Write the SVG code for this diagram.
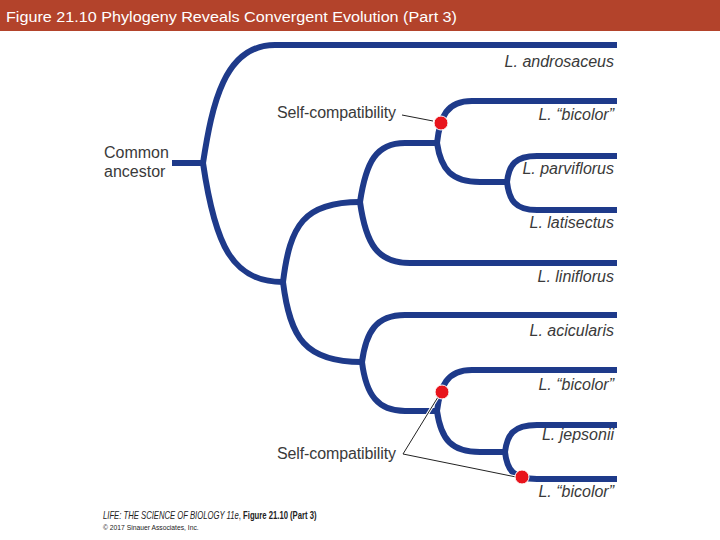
<svg xmlns="http://www.w3.org/2000/svg" width="720" height="540" viewBox="0 0 720 540">
<style>
.br{fill:none;stroke:#1e3a8a;stroke-width:6;stroke-linecap:butt;stroke-linejoin:round}
.tx{font-family:"Liberation Sans",Arial,sans-serif;font-size:16px;fill:#3a3a3a}
.sp{font-style:italic;text-anchor:end}
.call{stroke:#222;stroke-width:1;fill:none}
.halo{stroke:#fff;stroke-width:3;fill:none}
.dot{fill:#e8141c;stroke:#fff;stroke-width:1}
.cr{font-family:"Liberation Sans",Arial,sans-serif;fill:#222}
</style>
<rect width="720" height="540" fill="#fff"/>
<g id="title">
<rect x="0" y="0" width="720" height="31" fill="#b3432b"/>
<text x="6" y="22" font-family="Liberation Sans,Arial,sans-serif" font-size="15.5" fill="#fff" textLength="451" lengthAdjust="spacingAndGlyphs">Figure 21.10  Phylogeny Reveals Convergent Evolution (Part 3)</text>
</g>
<g id="connectors">
<path class="br" d="M172,163 L203,163"/>
<path class="br" d="M203,163 C212,105 224,45 275,45 L617,45"/>
<path class="br" d="M203,163 C215,245 232,282 283,282"/>
<path class="br" d="M283,282 C290,225 304,202 360,202"/>
<path class="br" d="M283,282 C290,338 305,362 362,362"/>
<path class="br" d="M360,202 C366,162 376,143 405,143 L437,143"/>
<path class="br" d="M360,202 C366,245 378,263 410,263 L617,263"/>
<path class="br" d="M437,143 C440,116 447,101 472,101 L617,101"/>
<path class="br" d="M437,143 C441,170 452,182 480,182 L507,182"/>
<path class="br" d="M507,182 C509,165 515,156 537,156 L617,156"/>
<path class="br" d="M507,182 C509,200 515,210 537,210 L617,210"/>
<path class="br" d="M362,362 C366,332 376,315 405,315 L617,315"/>
<path class="br" d="M362,362 C366,395 378,411 405,411 L437,411"/>
<path class="br" d="M437,411 C440,386 447,370 472,370 L617,370"/>
<path class="br" d="M437,411 C441,440 452,452 480,452 L505,452"/>
<path class="br" d="M505,452 C507,435 513,425 537,425 L617,425"/>
<path class="br" d="M505,452 C507,470 513,479 537,479 L617,479"/>
</g>
<g id="callouts">
<path class="halo" d="M402,115 L433,121"/>
<path class="call" d="M402,115 L433,121"/>
<path class="halo" d="M403,454 L438,397 M403,454 L516,477"/>
<path class="call" d="M403,454 L438,397 M403,454 L516,477"/>
</g>
<g id="dots">
<circle class="dot" cx="441" cy="123" r="7"/>
<circle class="dot" cx="442" cy="392" r="7"/>
<circle class="dot" cx="522" cy="477" r="7"/>
</g>
<g id="ancestor"><text class="tx" x="104" y="158">Common</text><text class="tx" x="104" y="177">ancestor</text></g>
<g id="sc1"><text class="tx" x="277" y="118" textLength="119">Self-compatibility</text></g>
<g id="sc2"><text class="tx" x="277" y="459" textLength="119">Self-compatibility</text></g>
<g id="t1"><text class="tx sp" x="614" y="67">L. androsaceus</text></g>
<g id="t2"><text class="tx sp" x="614" y="120">L. “bicolor”</text></g>
<g id="t3"><text class="tx sp" x="614" y="174">L. parviflorus</text></g>
<g id="t4"><text class="tx sp" x="614" y="228">L. latisectus</text></g>
<g id="t5"><text class="tx sp" x="614" y="282">L. liniflorus</text></g>
<g id="t6"><text class="tx sp" x="614" y="336">L. acicularis</text></g>
<g id="t7"><text class="tx sp" x="614" y="390">L. “bicolor”</text></g>
<g id="t8"><text class="tx sp" x="614" y="440">L. jepsonii</text></g>
<g id="t9"><text class="tx sp" x="614" y="497">L. “bicolor”</text></g>
<g id="credit">
<text class="cr" font-size="10" transform="translate(103,519) scale(0.77,1)"><tspan font-style="italic">LIFE: THE SCIENCE OF BIOLOGY 11e</tspan>, <tspan font-weight="bold">Figure 21.10 (Part 3)</tspan></text>
<text class="cr" font-size="7.5" transform="translate(103,530) scale(0.9,1)">© 2017 Sinauer Associates, Inc.</text>
</g>
</svg>
